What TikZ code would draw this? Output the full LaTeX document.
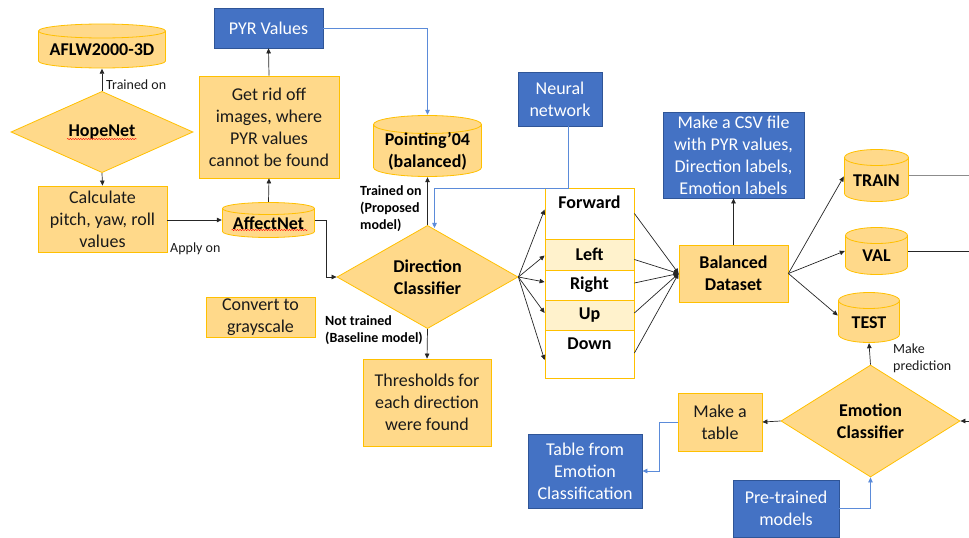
\documentclass[tikz,border=0pt]{standalone}
\usepackage{fontspec}
\setmainfont{Carlito}
\usetikzlibrary{shapes.geometric,arrows.meta,calc,decorations.pathmorphing}
\definecolor{orfill}{HTML}{FFD98A}
\definecolor{orline}{HTML}{FFC000}
\definecolor{rowfill}{HTML}{FFF2CC}
\definecolor{bluefill}{HTML}{4472C4}
\definecolor{blueline}{HTML}{2F5597}
\definecolor{blueconn}{HTML}{5B8BD9}
\definecolor{darkline}{HTML}{262626}
\definecolor{grayline}{HTML}{8C8C8C}
\definecolor{txt}{HTML}{1A1A1A}
\pgfkeys{/tikz/cylr/.store in=\cylr, /tikz/cylr=7}
\newcommand\lowered[2]{\raisebox{-#1}[\height][\depth]{#2}}
\tikzset{
  maintext/.style={font=\fontsize{18}{22}\selectfont, text=txt, align=center},
  boldtext/.style={font=\fontsize{18}{22}\selectfont\bfseries, text=black, align=center},
  orbox/.style={rectangle, fill=orfill, draw=orline, line width=0.8pt, inner sep=0pt, maintext},
  bluebox/.style={rectangle, fill=bluefill, draw=blueline, line width=0.8pt, inner sep=0pt,
    font=\fontsize{18}{22}\selectfont, text=white, align=center},
  decide/.style={diamond, fill=orfill, draw=orline, line width=0.8pt, inner sep=0pt, boldtext},
  rowbox/.style={rectangle, draw=orline, line width=0.8pt, inner sep=0pt, minimum width=89pt, boldtext},
  dbcyl/.style={rectangle, inner sep=0pt, boldtext,
    path picture={
      \filldraw[fill=orfill, draw=orline, line width=0.8pt]
        let \p1=([shift={(0.5pt,-0.5pt)}]path picture bounding box.north west),
            \p2=([shift={(-0.5pt,0.5pt)}]path picture bounding box.south east),
            \n1={(\x2-\x1)/2} in
        (\x1,\y1-\cylr pt) -- (\x1,\y2+\cylr pt)
        arc[start angle=180,end angle=360,x radius=\n1,y radius=\cylr pt]
        -- (\x2,\y1-\cylr pt)
        arc[start angle=0,end angle=180,x radius=\n1,y radius=\cylr pt] -- cycle
        (\x1,\y1-\cylr pt)
        arc[start angle=180,end angle=360,x radius=\n1,y radius=\cylr pt];
    }},
  conn/.style={draw=darkline, line width=0.7pt, -{Triangle[length=5pt,width=4.5pt]}},
  plain/.style={draw=darkline, line width=0.7pt},
  bconn/.style={draw=blueconn, line width=0.8pt, -{Triangle[length=5pt,width=4.5pt]}},
  small/.style={font=\fontsize{14}{17}\selectfont, text=txt, align=left, inner sep=0pt},
  smallbold/.style={font=\fontsize{14}{17}\selectfont\bfseries, text=black, align=left, inner sep=0pt},
  squiggle/.style={draw=red, line width=0.4pt, decorate, decoration={snake, amplitude=0.6pt, segment length=2.6pt}}
}
\begin{document}
\begin{tikzpicture}[x=1pt,y=1pt]
\useasboundingbox (0,0) rectangle (969,-538);
\coordinate (rightedge) at (969,0);

% left column
\node[dbcyl, cylr=7, minimum width=128pt, minimum height=45pt] (aflw) at (102,-46) {\lowered{4pt}{AFLW2000-3D}};
\node[decide, minimum width=182pt, minimum height=66pt] (hope) at (102,-132) {HopeNet};
\node[orbox, minimum width=129pt, minimum height=66pt] (calc) at (102.5,-219) {Calculate\\pitch, yaw, roll\\values};
\node[dbcyl, cylr=6, minimum width=93pt, minimum height=36pt] (affect) at (268.5,-220) {\lowered{3pt}{AffectNet}};
\node[orbox, minimum width=140pt, minimum height=102pt] (getrid) at (269,-127) {Get rid off\\images, where\\PYR values\\cannot be found};
\node[bluebox, minimum width=109pt, minimum height=40pt] (pyr) at (268.5,-28) {PYR Values};
\node[orbox, minimum width=109pt, minimum height=40pt] (conv) at (260.5,-317) {Convert to\\grayscale};

% middle
\node[dbcyl, cylr=9, minimum width=109pt, minimum height=62pt] (point) at (427.5,-146)
  {\lowered{6pt}{\begin{tabular}{@{}c@{}}Pointing’04\\(balanced)\end{tabular}}};
\node[bluebox, minimum width=84pt, minimum height=54pt] (neural) at (560,-99) {Neural\\network};
\node[decide, minimum width=181pt, minimum height=86pt] (dc) at (427.5,-277) {Direction\\Classifier};
\node[orbox, minimum width=128pt, minimum height=87pt] (thr) at (427,-402.5) {Thresholds for\\each direction\\were found};

% direction rows
\node[rowbox, fill=white, minimum height=51pt, text depth=23pt] (fwd) at (589.5,-213.5) {Forward};
\node[rowbox, fill=rowfill, minimum height=31pt] (left) at (589.5,-254.5) {Left};
\node[rowbox, fill=white, minimum height=30pt] (right) at (589.5,-285) {Right};
\node[rowbox, fill=rowfill, minimum height=30pt] (up) at (589.5,-315) {Up};
\node[rowbox, fill=white, minimum height=48pt, text depth=21pt] (down) at (589.5,-354) {Down};

% right part
\node[orbox, boldtext, minimum width=109pt, minimum height=57pt] (bal) at (733.5,-273.5) {Balanced\\Dataset};
\node[bluebox, minimum width=141pt, minimum height=86pt] (csv) at (733.5,-155) {Make a CSV file\\with PYR values,\\Direction labels,\\Emotion labels};
\node[dbcyl, cylr=8, minimum width=65pt, minimum height=53pt] (train) at (876.5,-175.5) {\lowered{5pt}{TRAIN}};
\node[dbcyl, cylr=8, minimum width=63pt, minimum height=48pt] (val) at (876.5,-251) {\lowered{5pt}{VAL}};
\node[dbcyl, cylr=8, minimum width=62pt, minimum height=51pt] (test) at (869,-317.5) {\lowered{5pt}{TEST}};
\node[decide, minimum width=179pt, minimum height=112pt] (emo) at (870.5,-421) {Emotion\\Classifier};
\node[orbox, minimum width=84pt, minimum height=58pt] (table) at (720,-422) {Make a\\table};
\node[bluebox, minimum width=114pt, minimum height=74pt] (tabres) at (585,-471) {Table from\\Emotion\\Classification};
\node[bluebox, minimum width=106pt, minimum height=57pt] (pre) at (786,-508.5) {Pre-trained\\models};

% labels
\node[small, anchor=west] (lbltrained) at (106,-85) {Trained on};
\node[small, anchor=west] (lblapply) at (170,-249) {Apply on};
\node[smallbold, anchor=west] (lblprop) at (360,-209) {Trained on\\(Proposed\\model)};
\node[smallbold, anchor=west] (lblbase) at (325,-330) {Not trained\\(Baseline model)};
\node[small, anchor=west] (lblpred) at (893,-358) {Make\\prediction};

% spell-check squiggles
\draw[squiggle] ([shift={(-35pt,-7pt)}]hope.center) -- ([shift={(35pt,-7pt)}]hope.center);
\draw[squiggle] ([shift={(-37pt,-10pt)}]affect.center) -- ([shift={(39pt,-10pt)}]affect.center);

% connectors left
\draw[conn] (hope.north) -- (aflw.south);
\draw[conn] (hope.south) -- (calc.north);
\draw[conn] (calc.east |- affect.west) -- (affect.west);
\draw[conn] (affect.north) -- (getrid.south);
\draw[conn] (getrid.north) -- (pyr.south);
\draw[bconn] (pyr.east) -| (point.north);
\draw[conn] (affect.east) -- ++(11,0) |- (dc.west);
\draw[conn] (dc.north) -- (point.south);
\draw[bconn] ([xshift=8pt]neural.south) -- ++(0,-62) -| ([shift={(7pt,-3pt)}]dc.north);
\draw[conn] (dc.south) -- (thr.north);

% to rows
\draw[conn] (dc.east) -- ([yshift=4pt]fwd.west);
\draw[conn] (dc.east) -- ([yshift=-1pt]left.west);
\draw[conn] (dc.east) -- ([yshift=3pt]right.west);
\draw[conn] (dc.east) -- ([yshift=2pt]up.west);
\draw[conn] (dc.east) -- ([yshift=-6pt]down.west);

% rows to balanced
\draw[conn] ([yshift=0pt]fwd.east) -- (bal.west);
\draw[conn] ([yshift=-5pt]left.east) -- (bal.west);
\draw[conn] ([yshift=2pt]right.east) -- (bal.west);
\draw[conn] ([yshift=2pt]up.east) -- (bal.west);
\draw[conn] ([yshift=1pt]down.east) -- (bal.west);

\draw[conn] (bal.north) -- (csv.south);
\draw[conn] (bal.east) -- ([yshift=-1pt]train.west);
\draw[conn] (bal.east) -- (val.west);
\draw[conn] (bal.east) -- ([yshift=2pt]test.west);
\draw[plain, draw=grayline, line width=0.9pt] (train.east) -- (train.east -| rightedge);
\draw[plain] (val.east) -- (val.east -| rightedge);

% emotion
\draw[conn] (emo.east -| rightedge) -- (emo.east);
\draw[conn] (emo.north) -- (test.south);
\draw[conn] (emo.west) -- (table.east);
\draw[bconn] (table.west) -- ++(-18,0) |- (tabres.east);
\draw[bconn] (pre.east) -| (emo.south);
\end{tikzpicture}
\end{document}
